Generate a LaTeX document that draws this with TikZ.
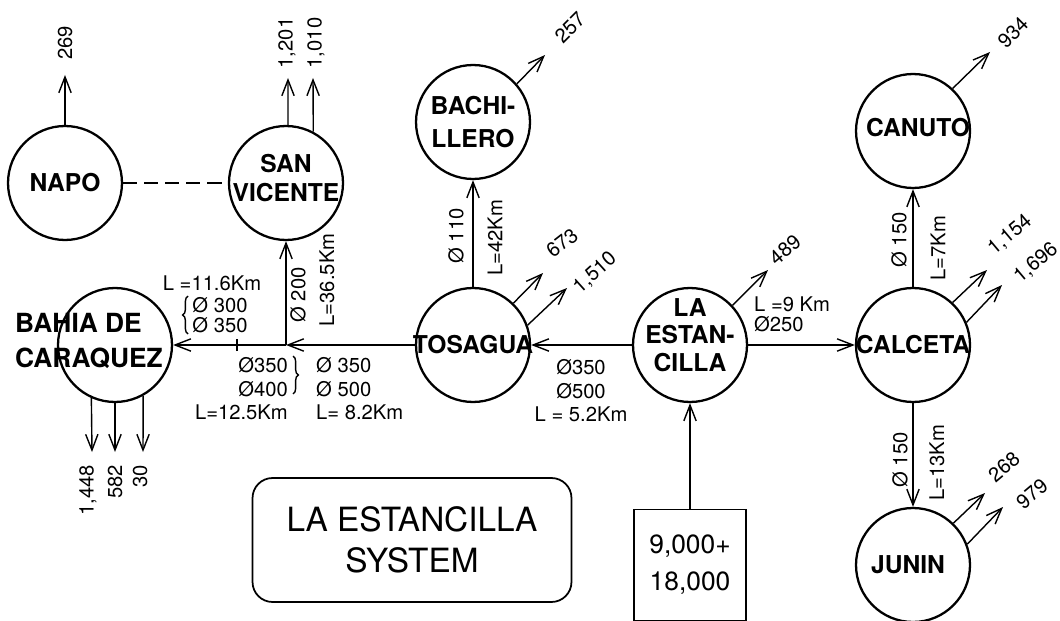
\documentclass[tikz,border=0pt]{standalone}
\usepackage{fontspec}
\setmainfont{TeX Gyre Heros}
\usetikzlibrary{arrows.meta,positioning,decorations.pathreplacing}

\begin{document}
\begin{tikzpicture}[
    x=0.02cm, y=-0.02cm,
    stn/.style={draw, circle, line width=1.3pt, minimum size=2.28cm, inner sep=0pt},
    stntxt/.style={font=\fontsize{14}{17}\selectfont\bfseries, align=center, inner sep=0pt},
    lbl/.style={font=\fontsize{11.5}{13.4}\selectfont, inner sep=0.5pt},
    arr/.style={-{Straight Barb[length=9pt,width=7pt]}, line width=0.8pt},
    pipe/.style={line width=0.8pt}
  ]
  \useasboundingbox (0,0) rectangle (1060,621);

  % stations
  \node[stn, label={[stntxt]center:NAPO}] (napo) at (65,183) {};
  \node[stn, label={[stntxt, yshift=0.1cm]center:{SAN\\VICENTE}}] (sanvic) at (286,183) {};
  \node[stn, label={[stntxt, font=\fontsize{15}{20}\selectfont\bfseries, align=left, xshift=-0.52cm, yshift=0.08cm]center:{BAHIA DE\\CARAQUEZ}}] (bahia) at (115,345) {};
  \node[stn, label={[stntxt, font=\fontsize{14}{19}\selectfont\bfseries]center:{BACHI-\\LLERO}}] (bachi) at (473,122) {};
  \node[stn, label={[stntxt]center:TOSAGUA}] (tosagua) at (473,345) {};
  \node[stn, label={[stntxt, font=\fontsize{14}{15.5}\selectfont\bfseries, yshift=0.2cm]center:{LA\\ESTAN-\\CILLA}}] (estan) at (690,345) {};
  \node[stn, label={[stntxt]center:CALCETA}] (calceta) at (913,345) {};
  \node[stn, label={[stntxt, xshift=0.1cm, yshift=0.06cm]center:CANUTO}] (canuto) at (913,131) {};
  \node[stn, label={[stntxt, xshift=-0.1cm]center:JUNIN}] (junin) at (913,565) {};

  \node[draw, line width=1pt, minimum width=2.24cm, minimum height=2.22cm, align=center,
        font=\fontsize{15}{21}\selectfont] (supply) at (690,565) {9,000+\\18,000};
  \node[draw, rounded corners=0.4cm, line width=1pt, minimum width=6.38cm, minimum height=2.48cm,
        align=center, font=\fontsize{19}{23}\selectfont] (title) at (412,540) {LA ESTANCILLA\\SYSTEM};

  \coordinate (jct) at (286,345);
  \coordinate (tick) at (237,345);

  % pipes
  \draw[pipe, dash pattern=on 8pt off 4pt] (napo) -- (sanvic);
  \draw[arr] (estan) -- (tosagua);
  \draw[arr] (tosagua) -- (jct);
  \draw[arr] (jct) -- (bahia);
  \draw[arr] (jct) -- (sanvic);
  \draw[arr] (tosagua) -- (bachi);
  \draw[arr] (estan) -- (calceta);
  \draw[arr] (calceta) -- (canuto);
  \draw[arr] (calceta) -- (junin);
  \draw[arr] (supply) -- (estan);
  \draw[pipe] ([yshift=-0.12cm]tick) -- ([yshift=0.12cm]tick);

  % demands
  \coordinate (o269) at (65,75);
  \coordinate (o1201) at (288,78);
  \coordinate (o1010) at (313,78);
  \coordinate (o1448) at (92,452);
  \coordinate (o582) at (115,452);
  \coordinate (o30) at (143,452);
  \coordinate (o257) at (545,55);
  \coordinate (o673) at (543,273);
  \coordinate (o1510) at (567,288);
  \coordinate (o489) at (768,270);
  \coordinate (o934) at (990,52);
  \coordinate (o1154) at (987,270);
  \coordinate (o1696) at (1002,285);
  \coordinate (o268) at (985,493);
  \coordinate (o979) at (1003,507);

  \draw[arr] (napo) -- (o269);
  \draw[arr] (sanvic.88) -- (o1201);
  \draw[arr] (sanvic.62) -- (o1010);
  \draw[arr] (bahia.246) -- (o1448);
  \draw[arr] (bahia.270) -- (o582);
  \draw[arr] (bahia.299) -- (o30);
  \draw[arr] (bachi.41) -- (o257);
  \draw[arr] (tosagua.46) -- (o673);
  \draw[arr] (tosagua.20) -- (o1510);
  \draw[arr] (estan.43) -- (o489);
  \draw[arr] (canuto.47) -- (o934);
  \draw[arr] (calceta.47) -- (o1154);
  \draw[arr] (calceta.23) -- (o1696);
  \draw[arr] (junin.46) -- (o268);
  \draw[arr] (junin.21) -- (o979);

  \node[lbl, rotate=90] (l269) at (65,43) {269};
  \node[lbl, rotate=90] (l1201) at (287,43) {1,201};
  \node[lbl, rotate=90] (l1010) at (316,43) {1,010};
  \node[lbl, rotate=90, anchor=east] (l1448) at (88,464) {1,448};
  \node[lbl, rotate=90, anchor=east] (l582) at (115,464) {582};
  \node[lbl, rotate=90, anchor=east] (l30) at (140,464) {30};
  \node[lbl, rotate=45] (l257) at (570,28) {257};
  \node[lbl, rotate=38] (l673) at (562,243) {673};
  \node[lbl, rotate=42] (l1510) at (595,273) {1,510};
  \node[lbl, rotate=40] (l489) at (785,250) {489};
  \node[lbl, rotate=45] (l934) at (1013,33) {934};
  \node[lbl, rotate=40] (l1154) at (1010,235) {1,154};
  \node[lbl, rotate=40] (l1696) at (1036,263) {1,696};
  \node[lbl, rotate=40] (l268) at (1004,467) {268};
  \node[lbl, rotate=40] (l979) at (1032,494) {979};

  % pipe data
  \node[lbl, rotate=90] (d200) at (298,295) {Ø 200};
  \node[lbl, rotate=90] (len365) at (327,280) {L=36.5Km};
  \node[lbl, rotate=90] (d110) at (456,236) {Ø 110};
  \node[lbl, rotate=90] (len42) at (495,238) {L=42Km};
  \node[lbl, rotate=90] (d150a) at (899,240) {Ø 150};
  \node[lbl, rotate=90] (len7) at (938,248) {L=7Km};
  \node[lbl, rotate=90] (d150b) at (900,460) {Ø 150};
  \node[lbl, rotate=90] (len13) at (937,463) {L=13Km};

  \node[lbl] (len116) at (212,283) {L =11.6Km};
  \node[lbl, align=left, font=\fontsize{11.5}{11.5}\selectfont] (d300) at (220,315) {Ø 300\\Ø 350};
  \draw[pipe, decorate, decoration={brace, amplitude=3pt}] (188,334) -- (188,296);
  \node[lbl, align=right, anchor=east] (seg1) at (289,389) {Ø350\\Ø400\\L=12.5Km};
  \draw[pipe, decorate, decoration={brace, amplitude=3pt}] (293,356) -- (293,394);
  \node[lbl, align=left, anchor=west] (seg2) at (315,389) {Ø 350\\Ø 500\\L= 8.2Km};
  \node[lbl, align=center] (seg3) at (581,391) {Ø350\\Ø500\\L = 5.2Km};
  \node[lbl, align=left, anchor=west, font=\fontsize{11.5}{11.5}\selectfont] (seg4) at (753,314) {L =9 Km\\Ø250};
\end{tikzpicture}
\end{document}
